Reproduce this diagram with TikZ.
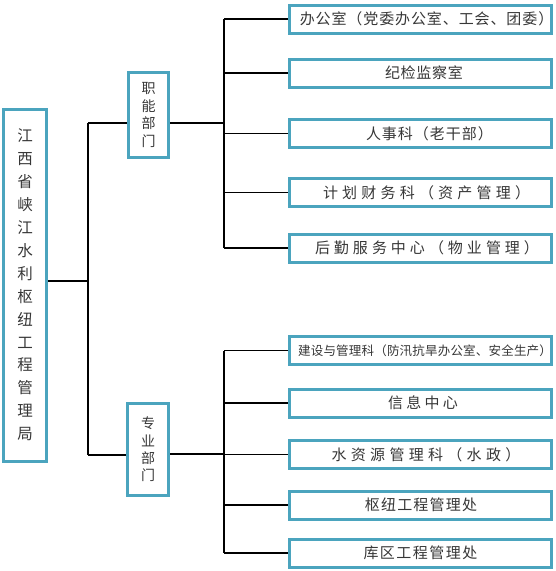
\documentclass[tikz,border=0pt]{standalone}
\usepackage{fontspec}
\setmainfont{Noto Sans CJK SC}
\usetikzlibrary{backgrounds}
\definecolor{bordc}{RGB}{75,164,190}
\definecolor{txtc}{RGB}{55,55,55}
\makeatletter
\newcommand\tk[2]{\def\tk@s{}\@tfor\tk@c:=#2\do{\tk@s\tk@c\def\tk@s{\kern#1pt}}}
\makeatother
% shifted text: #1 = shift (pt), #2 = letter kern, #3 = text
\newcommand\sh[3]{\makebox[0pt]{\hspace*{#1pt}\hspace*{#1pt}\tk{#2}{#3}}}
\tikzset{
  box/.style={draw=bordc, line width=3pt, fill=white, inner sep=0pt, text=txtc},
  unitbox/.style={box, minimum width=262pt, minimum height=28pt, font=\fontsize{15}{18}\selectfont},
  vbox/.style={box, align=center},
  conn/.style={draw=black, line width=1.3pt}
}
\begin{document}
\begin{tikzpicture}[x=1pt,y=-1pt]
\useasboundingbox (0,0) rectangle (555,571);

% main
\node[vbox, minimum width=43pt, minimum height=352pt, font=\fontsize{15.5}{22.9}\selectfont] (main) at (25,285)
  {江\\西\\省\\峡\\江\\水\\利\\枢\\纽\\工\\程\\管\\理\\局};
\node[vbox, minimum width=40pt, minimum height=85pt, font=\fontsize{14}{17.7}\selectfont] (zn) at (148.5,115) {职\\能\\部\\门};
\node[vbox, minimum width=41pt, minimum height=92pt, font=\fontsize{14}{17.3}\selectfont] (zy) at (148,449.5) {专\\业\\部\\门};

% upper units
\node[unitbox] (c1) at (420.5,19) {\sh{6}{0.9}{办公室（党委办公室、工会、团委）}};
\node[unitbox] (c2) at (420.5,73) {\sh{3.5}{0.75}{纪检监察室}};
\node[unitbox] (c3) at (420.5,133.5) {\sh{9}{1}{人事科（老干部）}};
\node[unitbox] (c4) at (420.5,192.5) {\sh{6}{4.2}{计划财务科（资产管理）}};
\node[unitbox] (c5) at (420.5,248) {\sh{6.5}{4}{后勤服务中心（物业管理）}};
% lower units
\node[unitbox, font=\fontsize{12.5}{15}\selectfont] (c6) at (420.5,350.5) {\sh{4.5}{0.2}{建设与管理科（防汛抗旱办公室、安全生产）}};
\node[unitbox] (c7) at (420.5,403) {\sh{2.5}{3.3}{信息中心}};
\node[unitbox] (c8) at (420.5,454.5) {\sh{5.5}{4.3}{水资源管理科（水政）}};
\node[unitbox] (c9) at (420.5,505) {\sh{0.5}{1.2}{枢纽工程管理处}};
\node[unitbox] (c10) at (420.5,553) {\sh{0}{1.5}{库区工程管理处}};

% junctions
\coordinate (m) at (88,281);
\coordinate (jA) at (88,123);
\coordinate (jB) at (88,455);
\coordinate (uj) at (224,123);
\coordinate (lj) at (224,454);

\begin{scope}[on background layer]
\draw[conn] (main.east |- m) -- (m);
\draw[conn] (jA) -- (jB);
\draw[conn] (jA) -- (zn.west |- jA);
\draw[conn] (jB) -- (zy.west |- jB);
\draw[conn] (zn.east |- uj) -- (uj);
\draw[conn] (zy.east |- lj) -- (lj);
\draw[conn] (uj |- c1) -- (uj |- c5);
\draw[conn] (lj |- c6) -- (lj |- c10);
\foreach \n in {c1,c2,c3,c4,c5,c6,c7,c8,c9,c10}
  \draw[conn] (uj |- \n) -- (\n.west);
\end{scope}
\end{tikzpicture}
\end{document}
